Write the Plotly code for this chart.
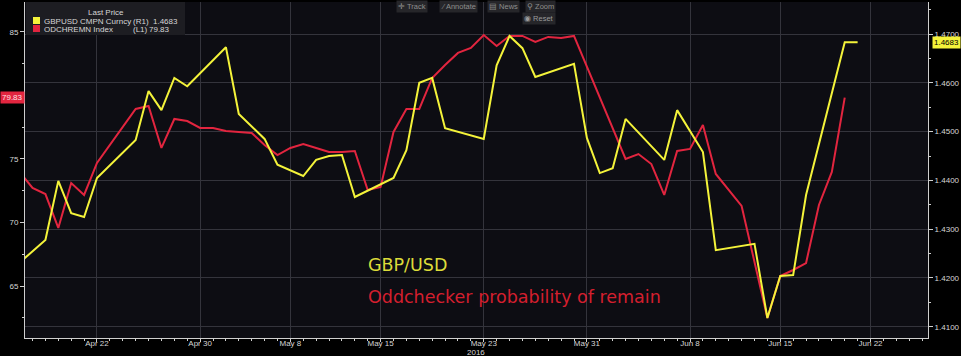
import plotly.graph_objects as go

# ---------------- data ----------------
gbp_dates = ["2016-04-15", "2016-04-18", "2016-04-19", "2016-04-20", "2016-04-21", "2016-04-22",
             "2016-04-25", "2016-04-26", "2016-04-27", "2016-04-28", "2016-04-29",
             "2016-05-02", "2016-05-03", "2016-05-04", "2016-05-05", "2016-05-06",
             "2016-05-09", "2016-05-10", "2016-05-11", "2016-05-12", "2016-05-13",
             "2016-05-16", "2016-05-17", "2016-05-18", "2016-05-19", "2016-05-20",
             "2016-05-23", "2016-05-24", "2016-05-25", "2016-05-26", "2016-05-27",
             "2016-05-30", "2016-05-31", "2016-06-01", "2016-06-02", "2016-06-03",
             "2016-06-06", "2016-06-07", "2016-06-08", "2016-06-09", "2016-06-10",
             "2016-06-13", "2016-06-14", "2016-06-15", "2016-06-16", "2016-06-17",
             "2016-06-20", "2016-06-21"]
gbp_values = [1.4208, 1.4278, 1.4399, 1.4333, 1.4325, 1.4405,
              1.4483, 1.4583, 1.4544, 1.4610, 1.4593,
              1.4673, 1.4536, 1.4510, 1.4485, 1.4432,
              1.4409, 1.4442, 1.4450, 1.4452, 1.4366,
              1.4405, 1.4462, 1.4600, 1.4610, 1.4507,
              1.4485, 1.4636, 1.4696, 1.4671, 1.4612,
              1.4639, 1.4487, 1.4415, 1.4425, 1.4526,
              1.4442, 1.4544, 1.4501, 1.4458, 1.4257,
              1.4270, 1.4118, 1.4204, 1.4206, 1.4370,
              1.4683, 1.4683]

odds_dates = ["2016-04-16", "2016-04-17", "2016-04-18", "2016-04-19", "2016-04-20", "2016-04-21",
              "2016-04-22", "2016-04-25", "2016-04-26", "2016-04-27", "2016-04-28", "2016-04-29",
              "2016-04-30", "2016-05-01", "2016-05-02", "2016-05-03", "2016-05-04", "2016-05-05",
              "2016-05-06", "2016-05-08", "2016-05-09", "2016-05-10", "2016-05-11", "2016-05-12",
              "2016-05-13", "2016-05-14", "2016-05-15", "2016-05-16", "2016-05-17", "2016-05-18",
              "2016-05-19", "2016-05-20", "2016-05-21", "2016-05-22", "2016-05-23", "2016-05-24",
              "2016-05-25", "2016-05-26", "2016-05-27", "2016-05-28", "2016-05-29", "2016-05-30",
              "2016-06-01", "2016-06-03", "2016-06-04", "2016-06-05", "2016-06-06", "2016-06-07",
              "2016-06-08", "2016-06-09", "2016-06-10", "2016-06-12", "2016-06-14", "2016-06-15",
              "2016-06-16", "2016-06-17", "2016-06-18", "2016-06-19", "2016-06-20"]
odds_values = [73.98, 72.72, 72.24, 69.57, 73.11, 72.17,
               74.69, 78.94, 79.17, 75.87, 78.15, 77.99,
               77.44, 77.44, 77.20, 77.13, 77.05, 76.10,
               75.31, 75.87, 76.18, 75.87, 75.55, 75.55,
               75.63, 72.56, 72.80, 77.13, 78.94, 78.94,
               81.38, 82.40, 83.35, 83.74, 84.76, 83.90,
               84.69, 84.69, 84.21, 84.61, 84.53, 84.69,
               79.88, 75.00, 75.39, 74.60, 72.17, 75.63,
               75.79, 77.68, 73.82, 71.30, 62.48, 65.79,
               66.26, 66.81, 71.38, 73.98, 79.83]

x_tick_dates = ["2016-04-22", "2016-04-30", "2016-05-08", "2016-05-15", "2016-05-23",
                "2016-05-31", "2016-06-08", "2016-06-15", "2016-06-22"]
x_tick_labels = ["Apr 22", "Apr 30", "May 8", "May 15", "May 23",
                 "May 31", "Jun 8", "Jun 15", "Jun 22"]
left_ticks = [65, 70, 75, 80, 85]
left_labels = ["65", "70", "75", "", "85"]

gbp_name = "GBPUSD CMPN Curncy"
odds_name = "ODCHREMN Index"
gbp_text = "GBP/USD"
odds_text = "Oddchecker probability of remain"

# ---------------- style ----------------
YELLOW = "#f4f33a"
RED = "#e2253f"
GRID = "#34343c"
AXIS = "#cfcfcf"
TXT = "#d6d6d6"
FONT = "Liberation Sans"

W, H = 961, 356
ML, MR, MT, MB = 25, 33, 2, 18
PW, PH = W - ML - MR, H - MT - MB


def px(x):
    return (x - ML) / PW


def py(y):
    return (H - MB - y) / PH


fig = go.Figure()
fig.add_trace(go.Scatter(x=gbp_dates, y=gbp_values, yaxis="y2", mode="lines",
                         line=dict(color=YELLOW, width=2), name=gbp_name))
fig.add_trace(go.Scatter(x=odds_dates, y=odds_values, yaxis="y", mode="lines",
                         line=dict(color=RED, width=2), name=odds_name))

fig.update_layout(
    width=W, height=H,
    margin=dict(l=ML, r=MR, t=MT, b=MB),
    paper_bgcolor="#000000",
    plot_bgcolor="#0d0d13",
    showlegend=False,
    font=dict(family=FONT, size=8, color=TXT),
    xaxis=dict(
        type="date",
        range=["2016-04-16 10:00", "2016-06-26 11:00"],
        rangebreaks=[dict(values=["2016-05-07"])],
        tickmode="array", tickvals=x_tick_dates, ticktext=x_tick_labels,
        showgrid=True, gridcolor=GRID, gridwidth=1,
        showline=True, linecolor=AXIS, linewidth=1,
        ticks="outside", ticklen=3, tickcolor=AXIS,
        ticklabelstandoff=-6,
        minor=dict(ticks="outside", ticklen=2, tickcolor=AXIS, dtick=86400000, showgrid=False),
        tickfont=dict(family=FONT, size=8, color=TXT),
        zeroline=False,
    ),
    yaxis=dict(
        range=[60.906, 87.36],
        side="left",
        tickmode="array", tickvals=left_ticks, ticktext=left_labels,
        showgrid=False, zeroline=False,
        showline=True, linecolor=AXIS, linewidth=1,
        ticks="outside", ticklen=4, tickcolor=AXIS,
        minor=dict(ticks="outside", ticklen=2, tickcolor=AXIS, tickmode="linear",
                   tick0=62.5, dtick=2.5, showgrid=False),
        tickfont=dict(family=FONT, size=8, color=TXT),
    ),
    yaxis2=dict(
        range=[1.4077, 1.47656],
        side="right", overlaying="y",
        tickmode="linear", tick0=1.41, dtick=0.01, tickformat=".4f",
        showgrid=True, gridcolor=GRID, gridwidth=1, zeroline=False,
        showline=True, linecolor=AXIS, linewidth=1,
        ticks="outside", ticklen=4, tickcolor=AXIS,
        minor=dict(ticks="outside", ticklen=2, tickcolor=AXIS, tickmode="linear",
                   tick0=1.405, dtick=0.005, showgrid=False),
        tickfont=dict(family=FONT, size=8, color=TXT),
    ),
)

shapes = []
annotations = []

# legend box (top-left)
shapes.append(dict(type="rect", xref="paper", yref="paper",
                   x0=px(26), x1=px(185), y0=py(35), y1=py(2),
                   fillcolor="#1d1d22", line=dict(width=0), layer="above"))
shapes.append(dict(type="rect", xref="paper", yref="paper",
                   x0=px(33), x1=px(40), y0=py(24), y1=py(17),
                   fillcolor=YELLOW, line=dict(width=0), layer="above"))
shapes.append(dict(type="rect", xref="paper", yref="paper",
                   x0=px(33), x1=px(40), y0=py(32), y1=py(25),
                   fillcolor=RED, line=dict(width=0), layer="above"))


def txt(x, y, s, anchor="left", color=TXT, size=8, family=FONT, **kw):
    d = dict(xref="paper", yref="paper", x=px(x), y=py(y), text=s, showarrow=False,
             xanchor=anchor, yanchor="middle",
             font=dict(family=family, size=size, color=color))
    d.update(kw)
    annotations.append(d)


txt(106, 12, "Last Price", anchor="center")
txt(42, 21, gbp_name)
txt(131, 21, "(R1)")
txt(180, 21, f"{gbp_values[-1]:.4f}", anchor="right")
txt(42, 29, odds_name)
txt(131, 29, "(L1)")
txt(172, 29, f"{odds_values[-1]:.2f}", anchor="right")

# toolbar
for x, s in [(412, "✛ Track"), (458, "⁄ Annotate"), (504, "▤ News"), (540, "⚲ Zoom")]:
    txt(x, 7, s, anchor="center", color="#8e8e8e", size=7.5, bgcolor="#26262a", borderpad=1)
txt(539, 18, "◉ Reset", anchor="center", color="#9a9a9a", size=7.5, bgcolor="#26262a", borderpad=1)

# year under May 23
txt(476, 352, "2016", anchor="center")

# big labels
txt(366, 265, gbp_text, color="#dcdc3a", size=17.5, family="DejaVu Sans")
txt(366, 297, odds_text, color="#d41f2e", size=17.5, family="DejaVu Sans")

# last value labels on axes
annotations.append(dict(xref="paper", yref="y", x=0, y=odds_values[-1], text=f"{odds_values[-1]:.2f}",
                        showarrow=False, xanchor="right", yanchor="middle",
                        bgcolor=RED, borderpad=1,
                        font=dict(family=FONT, size=8, color="#ffe0e4")))
annotations.append(dict(xref="paper", yref="y2", x=1, y=gbp_values[-1], text=f"{gbp_values[-1]:.4f}",
                        showarrow=False, xanchor="left", yanchor="middle", xshift=4,
                        bgcolor=YELLOW, borderpad=1,
                        font=dict(family=FONT, size=8, color="#000000")))

fig.update_layout(shapes=shapes, annotations=annotations)
fig.write_html("out.html",
               config={"displayModeBar": False},
               post_script="document.body.style.margin='0';document.body.style.overflow='hidden';")
